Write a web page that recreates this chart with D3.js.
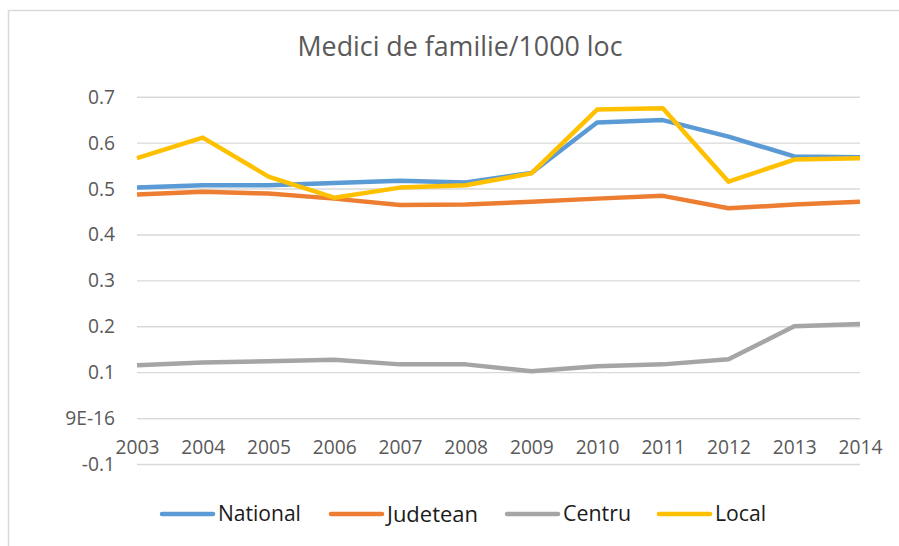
<!DOCTYPE html>
<html>
<head>
<meta charset="utf-8">
<script src="https://cdn.jsdelivr.net/npm/d3@7"></script>
<style>
  html, body { margin: 0; padding: 0; background: #fff; }
  svg { display: block; }
  text { font-family: "Open Sans", "Noto Sans", sans-serif; }
</style>
</head>
<body>
<svg id="chart" width="899" height="546"></svg>
<script>
const years = [2003, 2004, 2005, 2006, 2007, 2008, 2009, 2010, 2011, 2012, 2013, 2014];
const national = [0.502, 0.507, 0.507, 0.512, 0.517, 0.513, 0.534, 0.644, 0.649, 0.613, 0.570, 0.568];
const judetean = [0.487, 0.493, 0.489, 0.478, 0.464, 0.465, 0.471, 0.478, 0.484, 0.457, 0.465, 0.471];
const centru   = [0.115, 0.121, 0.124, 0.127, 0.117, 0.117, 0.102, 0.113, 0.117, 0.128, 0.200, 0.205];
const local    = [0.566, 0.611, 0.526, 0.480, 0.502, 0.507, 0.533, 0.672, 0.675, 0.515, 0.563, 0.566];
const seriesNames = ["National", "Judetean", "Centru", "Local"];
const yTickValues = [-0.1, 0, 0.1, 0.2, 0.3, 0.4, 0.5, 0.6, 0.7];
const yTickLabels = ["-0.1", "9E-16", "0.1", "0.2", "0.3", "0.4", "0.5", "0.6", "0.7"];
const title = "Medici de familie/1000 loc";

const colors = ["#5B9BD5", "#ED7D31", "#A5A5A5", "#FFC000"];
const seriesValues = [national, judetean, centru, local];

const svg = d3.select("#chart");

// chart frame
svg.append("rect")
  .attr("x", 8.5).attr("y", 10.5)
  .attr("width", 1000).attr("height", 600)
  .attr("fill", "#fff").attr("stroke", "#d9d9d9").attr("stroke-width", 1.5);

const x = d3.scalePoint().domain(years).range([137, 860]);
const y = d3.scaleLinear().domain([-0.1, 0.7]).range([464, 96.7]);

function fitText(sel, target) {
  const node = sel.node();
  const fs = parseFloat(sel.attr("font-size"));
  const len = node.getComputedTextLength();
  sel.attr("font-size", (fs * target / len).toFixed(2));
}

// title
const t = svg.append("text")
  .attr("x", 460).attr("y", 56)
  .attr("text-anchor", "middle")
  .attr("font-size", 26)
  .attr("fill", "#595959")
  .text(title);
fitText(t, 325);

// gridlines
const grid = svg.append("g")
  .attr("transform", "translate(137,0)")
  .call(d3.axisLeft(y).tickValues(yTickValues).tickSize(-(860 - 137)).tickFormat(""));
grid.select(".domain").remove();
grid.selectAll(".tick line").attr("stroke", "#d9d9d9").attr("stroke-width", 1.4);

// y labels
const yAx = svg.append("g")
  .attr("transform", "translate(115,0)")
  .call(d3.axisLeft(y).tickValues(yTickValues).tickSize(0).tickPadding(0)
    .tickFormat((d, i) => yTickLabels[i]));
yAx.select(".domain").remove();
yAx.selectAll(".tick text")
  .attr("font-size", 19.2)
  .attr("fill", "#595959")
  .attr("font-family", "Open Sans")
  .attr("dy", "0.34em");

// x axis at zero
const xAx = svg.append("g")
  .attr("transform", `translate(0,${y(0)})`)
  .call(d3.axisBottom(x).tickSize(0).tickPadding(0));
xAx.select(".domain").attr("stroke", "#d9d9d9").attr("stroke-width", 1.4);
xAx.selectAll(".tick text")
  .attr("font-size", 19.2)
  .attr("fill", "#595959")
  .attr("font-family", "Open Sans")
  .attr("y", 36)
  .attr("dy", 0);

// lines
const line = d3.line()
  .x((d, i) => x(years[i]))
  .y(d => y(d));

seriesValues.forEach((vals, k) => {
  svg.append("path")
    .datum(vals)
    .attr("d", line)
    .attr("fill", "none")
    .attr("stroke", colors[k])
    .attr("stroke-width", 4.5)
    .attr("stroke-linejoin", "round")
    .attr("stroke-linecap", "butt");
});

// legend
const legendX = [162, 331, 507, 659];
const legendTextW = [83, 91, 68, 51];
const lg = svg.append("g");
seriesNames.forEach((name, k) => {
  lg.append("line")
    .attr("x1", legendX[k]).attr("x2", legendX[k] + 51)
    .attr("y1", 514).attr("y2", 514)
    .attr("stroke", colors[k]).attr("stroke-width", 4.5)
    .attr("stroke-linecap", "round");
  const tx = lg.append("text")
    .attr("x", legendX[k] + 56).attr("y", 514)
    .attr("dy", "0.35em")
    .attr("font-size", 21)
    .attr("fill", "#1a1a1a")
    .text(name);
  fitText(tx, legendTextW[k]);
});
</script>
</body>
</html>
